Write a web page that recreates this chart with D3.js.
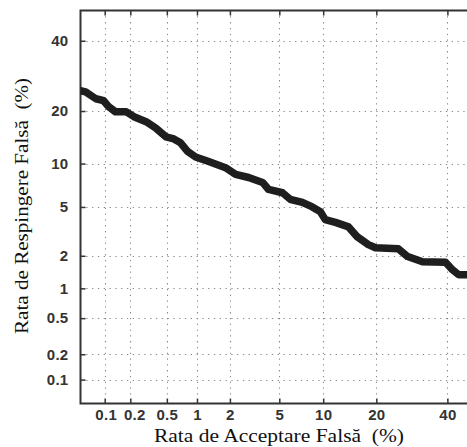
<!DOCTYPE html>
<html>
<head>
<meta charset="utf-8">
<script src="https://cdn.jsdelivr.net/npm/d3@7"></script>
<style>
  html, body { margin: 0; padding: 0; background: #fff; }
  svg { display: block; }
  .title { white-space: pre; }
</style>
</head>
<body>
<svg id="chart" width="467" height="447"></svg>
<script>
// ---- data (percent) ----
const farValues = [0.050, 0.058, 0.078, 0.097, 0.112, 0.135, 0.18, 0.22, 0.30, 0.38,
                   0.49, 0.59, 0.69, 0.81, 0.97, 1.29, 1.83, 2.24, 2.88, 3.73,
                   4.15, 5.28, 6.0, 7.3, 8.5, 9.6, 10.3, 11.9, 14.2, 15.9,
                   18.2, 19.8, 25.5, 28.0, 32.3, 39.4, 41.6, 43.6, 46.5, 49.0];
const frrValues = [25.1, 24.8, 23.0, 22.5, 21.0, 19.8, 19.8, 18.7, 17.6, 16.3,
                   14.5, 14.1, 13.4, 11.9, 11.0, 10.3, 9.4, 8.5, 8.1, 7.5,
                   6.7, 6.35, 5.7, 5.4, 5.0, 4.6, 4.0, 3.8, 3.5, 2.9,
                   2.5, 2.35, 2.3, 1.97, 1.77, 1.75, 1.50, 1.35, 1.35, 1.33];
const xTickValues = [0.1, 0.2, 0.5, 1, 2, 5, 10, 20, 40];
const yTickValues = [0.1, 0.2, 0.5, 1, 2, 5, 10, 20, 40];
const xTickLabels = ["0.1", "0.2", "0.5", "1", "2", "5", "10", "20", "40"];
const yTickLabels = ["0.1", "0.2", "0.5", "1", "2", "5", "10", "20", "40"];
const axisDomain = [0.05, 50];
const xTitle = "Rata de Acceptare Falsă  (%)";
const yTitle = "Rata de Respingere Falsă  (%)";

// inverse normal CDF (Acklam)
function probit(p) {
  const a = [-3.969683028665376e+01, 2.209460984245205e+02, -2.759285104469687e+02,
             1.383577518672690e+02, -3.066479806614716e+01, 2.506628277459239e+00];
  const b = [-5.447609879822406e+01, 1.615858368580409e+02, -1.556989798598866e+02,
             6.680131188771972e+01, -1.328068155288572e+01];
  const c = [-7.784894002430293e-03, -3.223964580411365e-01, -2.400758277161838e+00,
             -2.549671185802994e+00, 4.374664141464968e+00, 2.938163982698783e+00];
  const d = [7.784695709041462e-03, 3.224671290700398e-01, 2.445134137142996e+00,
             3.754408661907416e+00];
  const pl = 0.02425, ph = 1 - pl;
  let q, r;
  if (p < pl) {
    q = Math.sqrt(-2 * Math.log(p));
    return (((((c[0]*q+c[1])*q+c[2])*q+c[3])*q+c[4])*q+c[5]) /
           ((((d[0]*q+d[1])*q+d[2])*q+d[3])*q+1);
  } else if (p <= ph) {
    q = p - 0.5; r = q*q;
    return (((((a[0]*r+a[1])*r+a[2])*r+a[3])*r+a[4])*r+a[5])*q /
           (((((b[0]*r+b[1])*r+b[2])*r+b[3])*r+b[4])*r+1);
  } else {
    q = Math.sqrt(-2 * Math.log(1 - p));
    return -(((((c[0]*q+c[1])*q+c[2])*q+c[3])*q+c[4])*q+c[5]) /
            ((((d[0]*q+d[1])*q+d[2])*q+d[3])*q+1);
  }
}

const L = 80.5, R = 478, T = 10.5, B = 403.5;

const xLin = d3.scaleLinear().domain(axisDomain.map(v => probit(v / 100))).range([L, R]);
const yLin = d3.scaleLinear().domain(axisDomain.map(v => probit(v / 100))).range([B, T]);
const x = v => xLin(probit(v / 100));
const y = v => yLin(probit(v / 100));
// wrap as axis-compatible scales
function wrap(fn, lin) {
  const s = v => fn(v);
  s.range = () => lin.range();
  s.domain = () => axisDomain;
  s.copy = () => wrap(fn, lin);
  return s;
}
const xScale = wrap(x, xLin);
const yScale = wrap(y, yLin);

const svg = d3.select("#chart");

svg.append("defs").append("clipPath").attr("id", "plotclip")
  .append("rect").attr("x", L).attr("y", T).attr("width", R - L).attr("height", B - T);

// grid
const grid = svg.append("g").attr("stroke", "#8a8a8a").attr("stroke-width", 1.1)
  .attr("stroke-dasharray", "1.3,4.5");
grid.selectAll("line.v").data(xTickValues).join("line").attr("class", "v")
  .attr("x1", d => Math.round(x(d)) + 0.5).attr("x2", d => Math.round(x(d)) + 0.5)
  .attr("y1", T).attr("y2", B);
grid.selectAll("line.h").data(yTickValues).join("line").attr("class", "h")
  .attr("y1", d => Math.round(y(d)) + 0.5).attr("y2", d => Math.round(y(d)) + 0.5)
  .attr("x1", L).attr("x2", R);

// axes
const tickFont = "'Liberation Sans', Arial, sans-serif";
const bottomAxis = d3.axisBottom(xScale).tickValues(xTickValues)
  .tickFormat((d, i) => xTickLabels[i]).tickSize(-5).tickPadding(6);
const topAxis = d3.axisTop(xScale).tickValues(xTickValues).tickFormat("").tickSize(-5);
const leftAxis = d3.axisLeft(yScale).tickValues(yTickValues)
  .tickFormat((d, i) => yTickLabels[i]).tickSize(-5).tickPadding(12);

function styleAxis(g) {
  g.select(".domain").remove();
  g.selectAll(".tick line").attr("stroke", "#333").attr("stroke-width", 1.5);
  g.selectAll(".tick text").attr("fill", "#333").attr("font-size", 15)
    .attr("font-weight", "bold").attr("font-family", tickFont)
    .attr("letter-spacing", 0.3);
}
const gb = svg.append("g").attr("transform", `translate(0,${B})`).call(bottomAxis).call(styleAxis);
gb.selectAll(".tick text").attr("dx", d => d === 0.2 ? 4 : (d === 0.1 ? 1 : 0));
svg.append("g").attr("transform", `translate(0,${T})`).call(topAxis).call(styleAxis);
svg.append("g").attr("transform", `translate(${L},0)`).call(leftAxis).call(styleAxis);

// frame
svg.append("path")
  .attr("d", `M${R},${T}H${L}V${B}H${R}`)
  .attr("fill", "none").attr("stroke", "#333").attr("stroke-width", 2);

// curve
const pts = farValues.map((f, i) => [f, frrValues[i]]);
svg.append("path")
  .datum(pts)
  .attr("clip-path", "url(#plotclip)")
  .attr("fill", "none")
  .attr("stroke", "#1e1e1e")
  .attr("stroke-width", 7.5)
  .attr("stroke-linejoin", "round")
  .attr("stroke-linecap", "round")
  .attr("d", d3.line().x(d => x(d[0])).y(d => y(d[1])).curve(d3.curveLinear));

// titles
svg.append("text").attr("class", "title")
  .attr("x", 279).attr("y", 442)
  .attr("text-anchor", "middle")
  .attr("font-family", "'Liberation Serif', 'Times New Roman', serif")
  .attr("font-size", 19).attr("fill", "#111")
  .attr("textLength", 250).attr("lengthAdjust", "spacingAndGlyphs")
  .text(xTitle);
svg.append("text").attr("class", "title")
  .attr("transform", "translate(28,206) rotate(-90)")
  .attr("text-anchor", "middle")
  .attr("font-family", "'Liberation Serif', 'Times New Roman', serif")
  .attr("font-size", 19).attr("fill", "#111")
  .attr("textLength", 256).attr("lengthAdjust", "spacingAndGlyphs")
  .text(yTitle);
</script>
</body>
</html>
